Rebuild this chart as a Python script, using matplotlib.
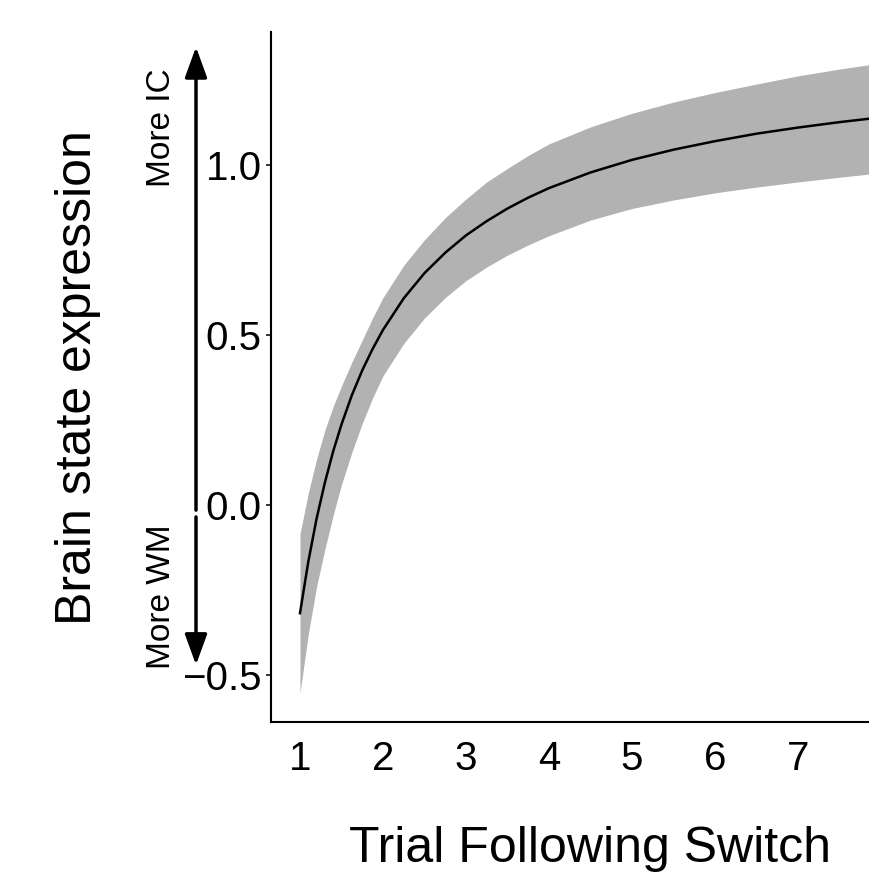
#!/usr/bin/python3
# -*- coding: UTF-8 -*-

import matplotlib
matplotlib.use("Agg")
import matplotlib.pyplot as plt
from matplotlib.ticker import FixedLocator

# Values
trial = [1.0, 1.1, 1.2, 1.3, 1.4, 1.5, 1.625, 1.75, 1.875, 2.0, 2.25, 2.5, 2.75,
         3.0, 3.25, 3.5, 3.75, 4.0, 4.5, 5.0, 5.5, 6.0, 6.5, 7.0, 7.5, 8.0]
fit = [-0.318, -0.167, -0.040, 0.066, 0.158, 0.237, 0.323, 0.396, 0.459, 0.515,
       0.608, 0.682, 0.742, 0.793, 0.835, 0.872, 0.904, 0.932, 0.978, 1.015,
       1.045, 1.070, 1.092, 1.110, 1.126, 1.140]
upper = [-0.085, 0.035, 0.135, 0.22, 0.29, 0.35, 0.42, 0.485, 0.55, 0.61, 0.705,
         0.78, 0.845, 0.90, 0.95, 0.99, 1.028, 1.062, 1.112, 1.152, 1.185, 1.213,
         1.238, 1.262, 1.282, 1.30]
lower = [-0.553, -0.38, -0.24, -0.13, -0.03, 0.06, 0.155, 0.24, 0.315, 0.38,
         0.475, 0.55, 0.61, 0.66, 0.70, 0.735, 0.765, 0.792, 0.838, 0.872,
         0.897, 0.918, 0.935, 0.95, 0.964, 0.977]

xticks = [1, 2, 3, 4, 5, 6, 7]
xminor = [2, 4, 6]
yticks = [-0.5, 0.0, 0.5, 1.0]
ytick_labels = ["\u22120.5", "0.0", "0.5", "1.0"]

plt.rcParams['font.family'] = ['Liberation Sans', 'DejaVu Sans']

fig = plt.figure(figsize=(8.7, 8.72), dpi=100)
ax = fig.add_axes([0.3115, 0.172, 0.6885, 0.7913])

# Confidence band and fitted curve
ax.fill_between(trial, lower, upper, color="#b2b2b2", linewidth=0)
ax.plot(trial, fit, color="black", linewidth=1.8)

ax.set_xlim(0.651, 7.867)
ax.set_ylim(-0.638, 1.391)

# Axis styling (only left and bottom lines)
for side in ["top", "right"]:
    ax.spines[side].set_visible(False)
for side in ["left", "bottom"]:
    ax.spines[side].set_linewidth(1.5)

ax.set_xticks(xticks)
ax.set_xticklabels([str(t) for t in xticks])
ax.xaxis.set_minor_locator(FixedLocator(xminor))
ax.tick_params(axis="x", which="major", length=0, pad=13, labelsize=29)
ax.tick_params(axis="x", which="minor", length=3.6, width=1.1)

ax.set_yticks(yticks)
ax.set_yticklabels(ytick_labels)
ax.tick_params(axis="y", length=3.6, width=1.1, pad=3, labelsize=29)

# Axis titles
fig.text(0.678, 0.0115, "Trial Following Switch", ha="center", va="baseline", fontsize=36)
fig.text(0.0897, 0.5665, "Brain state expression", ha="center", va="center",
         rotation=90, fontsize=36)

# Direction arrows next to the y axis
arrow_x = 196 / 870
head = dict(arrowstyle="-|>,head_length=0.55,head_width=0.2", mutation_scale=34,
            lw=2.5, color="black", shrinkA=0, shrinkB=0)
ax.annotate("", xy=(arrow_x, 1.347), xytext=(arrow_x, -0.015),
            xycoords=("figure fraction", "data"), textcoords=("figure fraction", "data"),
            arrowprops=head, annotation_clip=False)
ax.annotate("", xy=(arrow_x, -0.47), xytext=(arrow_x, -0.035),
            xycoords=("figure fraction", "data"), textcoords=("figure fraction", "data"),
            arrowprops=head, annotation_clip=False)
fig.text(162 / 870, 1 - 127.5 / 872, "More IC", ha="center", va="center",
         rotation=90, fontsize=24)
fig.text(162 / 870, 1 - 597 / 872, "More WM", ha="center", va="center",
         rotation=90, fontsize=24)

fig.savefig("out.png", dpi=100)
